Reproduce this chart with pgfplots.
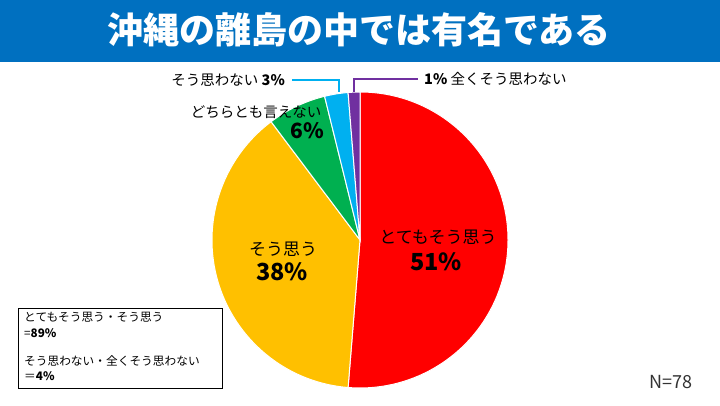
\documentclass[border=0pt]{standalone}
\usepackage{pgfplots}
\pgfplotsset{compat=1.18}
\usepackage{pgfplotstable}
\usepackage{fontspec}
\setmainfont{Noto Sans CJK JP}

\definecolor{titleblue}{HTML}{0070C0}
\definecolor{slice0}{HTML}{FF0000}
\definecolor{slice1}{HTML}{FFC000}
\definecolor{slice2}{HTML}{00B050}
\definecolor{slice3}{HTML}{00B0F0}
\definecolor{slice4}{HTML}{7030A0}

% counts out of N=78
\pgfplotstableread{
label n
とてもそう思う 40
そう思う 30
どちらとも言えない 5
そう思わない 2
全くそう思わない 1
}\piedata

\newcommand\fs[1]{\fontsize{#1bp}{#1bp}\selectfont}

\begin{document}
\begin{tikzpicture}
% total and slice angles (clockwise from 12 o'clock)
\gdef\total{0}%
\pgfplotstableforeachcolumnelement{n}\of\piedata\as\val{%
  \pgfmathsetmacro\tmp{\total+\val}\global\let\total\tmp}%
\gdef\cum{0}%
\pgfplotstableforeachcolumnelement{n}\of\piedata\as\val{%
  \pgfmathsetmacro\sa{90-\cum/\total*360}%
  \pgfmathsetmacro\tmp{\cum+\val}\global\let\cum\tmp
  \pgfmathsetmacro\ea{90-\cum/\total*360}%
  \expandafter\xdef\csname sa\pgfplotstablerow\endcsname{\sa}%
  \expandafter\xdef\csname ea\pgfplotstablerow\endcsname{\ea}%
}%
\begin{axis}[
  hide axis,
  scale only axis,
  width=720bp, height=405bp,
  xmin=0, xmax=720, ymin=0, ymax=405,
  clip=false
]
\coordinate (ll) at (axis cs:0,0);
\coordinate (ur) at (axis cs:720,405);
\fill[white] (axis cs:0,0) rectangle (axis cs:720,405);
\fill[titleblue] (axis cs:0,343) rectangle (axis cs:720,405);
\node[white, font=\fs{36}\bfseries] at (axis cs:359,375) {沖縄の離島の中では有名である};

\pgfplotsinvokeforeach{0,...,4}{%
  \edef\doslice{\noexpand\fill[slice#1, draw=white, line width=1bp]
    (axis cs:360,165) -- ++(\csname sa#1\endcsname:148bp)
    arc[start angle=\csname sa#1\endcsname, end angle=\csname ea#1\endcsname, radius=148bp] -- cycle;}%
  \doslice
}

% slice labels
\node[font=\fs{17}] at (axis cs:438,168) {とてもそう思う};
\node[font=\fs{23.5}\bfseries] at (axis cs:436,143) {51\%};
\node[font=\fs{17}] at (axis cs:283,156) {そう思う};
\node[font=\fs{23.5}\bfseries] at (axis cs:282,133) {38\%};
\node[font=\fs{14.5}] at (axis cs:256,293) {どちらとも言えない};
\node[font=\fs{21}\bfseries] at (axis cs:307,274) {6\%};
\node[anchor=east, font=\fs{14.5}, inner sep=0pt] at (axis cs:285,325) {そう思わない \textbf{3\%}};
\node[anchor=west, font=\fs{14.5}, inner sep=0pt] at (axis cs:424,326) {\textbf{1\%} 全くそう思わない};
\draw[slice3, line width=1.5bp] (axis cs:292,325) -- (axis cs:339,325) -- (axis cs:339,313);
\draw[slice4, line width=1.5bp] (axis cs:354,313) -- (axis cs:354,326) -- (axis cs:418,326);

% summary box
\draw[black, line width=0.8bp] (axis cs:18,97) rectangle (axis cs:222,17);
\node[anchor=west, font=\fs{11.7}, inner sep=0pt] at (axis cs:24,88) {とてもそう思う・そう思う};
\node[anchor=west, font=\fs{11.7}, inner sep=0pt] at (axis cs:24,72) {=\textbf{89\%}};
\node[anchor=west, font=\fs{11.7}, inner sep=0pt] at (axis cs:24,44) {そう思わない・全くそう思わない};
\node[anchor=west, font=\fs{11.7}, inner sep=0pt] at (axis cs:24,29) {＝\textbf{4\%}};

\node[anchor=east, font=\fs{18}, text=black!80, inner sep=0pt] at (axis cs:693,23) {N=78};
\end{axis}
\pgfresetboundingbox
\path[use as bounding box] (ll) rectangle (ur);
\end{tikzpicture}
\end{document}
